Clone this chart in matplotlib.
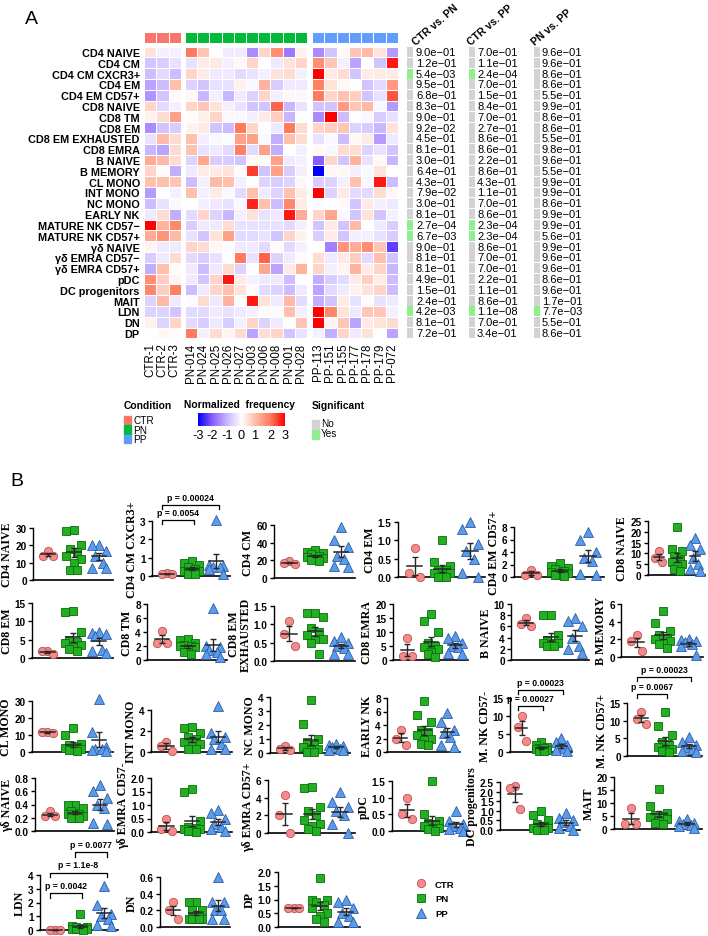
import numpy as np
import matplotlib
matplotlib.use("Agg")
import matplotlib.pyplot as plt
from matplotlib import font_manager
from matplotlib.colors import LinearSegmentedColormap
from matplotlib.patches import Rectangle
from matplotlib.lines import Line2D
import matplotlib.transforms as mtransforms

# ------------------------------------------------------------------ data A
row_labels = ["CD4 NAIVE", "CD4 CM", "CD4 CM CXCR3+", "CD4 EM", "CD4 EM CD57+", "CD8 NAIVE",
              "CD8 TM", "CD8 EM", "CD8 EM EXHAUSTED", "CD8 EMRA", "B NAIVE", "B MEMORY",
              "CL MONO", "INT MONO", "NC MONO", "EARLY NK", "MATURE NK CD57\u2212",
              "MATURE NK CD57+", "\u03b3\u03b4 NAIVE", "\u03b3\u03b4 EMRA CD57\u2212",
              "\u03b3\u03b4 EMRA CD57+", "pDC", "DC progenitors", "MAIT", "LDN", "DN", "DP"]
samples_ctr = ["CTR-1", "CTR-2", "CTR-3"]
samples_pn = ["PN-014", "PN-024", "PN-025", "PN-026", "PN-027", "PN-003", "PN-006", "PN-008", "PN-001", "PN-028"]
samples_pp = ["PP-113", "PP-151", "PP-155", "PP-177", "PP-178", "PP-179", "PP-072"]

heat_ctr = [
    [0.4, -0.2, -0.2], [-0.8, -0.7, -0.4], [-0.9, -0.5, -0.9], [-1.2, -0.9, 0.9],
    [-1.4, -0.8, 0.1], [0.6, -0.5, -0.2], [0.2, 0.5, 1.4], [-1.5, -0.8, -0.7],
    [-0.4, 1.0, 0.5], [-1.0, -1.2, 0.5], [1.2, 1.0, 0.5], [0.6, 0.05, -1.1],
    [0.9, 0.9, 0.8], [-1.3, 0.0, -0.2], [-0.9, -0.4, -0.1], [-0.3, 0.5, -1.1],
    [3.0, 1.1, 1.8], [1.2, 1.6, 1.0], [0.15, -0.3, -0.3], [-0.7, -0.3, 0.5],
    [-1.1, 0.9, 0.05], [1.7, 0.7, 0.15], [1.8, 0.7, 1.9], [-0.6, 1.0, -0.3],
    [-0.6, -0.6, -0.8], [0.2, -0.6, 0.6], [0.0, 0.1, 0.05]]
heat_pn = [
    [2.0, 0.8, 0.0, -0.3, -0.3, -1.5, 0.6, 1.7, -1.7, 0.2],
    [-0.4, 0.3, 0.3, -0.2, 0.1, 0.6, 0.0, -0.3, 0.4, 0.6],
    [0.6, 0.3, -0.3, -0.3, -0.5, -0.4, -0.2, 0.4, 0.5, -0.2],
    [-0.6, -0.8, -0.4, -0.4, 0.2, -0.1, 1.1, -0.7, -0.3, -0.3],
    [0.1, -1.0, -0.2, -1.0, -0.3, -0.6, 0.6, -0.2, 0.1, -0.1],
    [0.6, 0.8, 0.4, -0.2, -0.4, -0.8, -0.8, 2.2, -1.0, -0.4],
    [0.05, 0.2, 0.6, -0.1, -0.1, -0.2, 0.3, 0.7, -1.0, 0.0],
    [0.2, 0.3, -0.8, -0.9, 2.0, 0.6, 0.0, -0.3, 2.0, 0.5],
    [0.9, -0.2, -0.1, -0.05, 1.4, 1.4, -0.1, -1.1, 0.9, 0.5],
    [0.9, -0.4, -0.3, -0.5, 1.9, -0.5, 1.4, -1.1, 0.0, -0.2],
    [-0.6, 1.3, -0.7, -0.7, -0.8, 0.1, 0.1, 1.4, -0.3, -0.2],
    [-0.3, 0.3, 0.3, 0.4, 0.05, 2.5, -0.8, 1.4, -0.7, -0.2],
    [-0.9, -0.2, 1.0, 0.9, -0.2, 0.0, -0.6, -0.7, -0.6, 0.1],
    [0.9, -0.2, 0.3, -0.1, -0.5, 0.9, -0.3, -0.6, 0.9, 0.3],
    [0.0, -0.2, -0.3, -0.4, -0.1, 2.7, 0.9, -0.9, 1.8, 0.3],
    [-0.5, 0.6, -0.6, -1.0, -0.2, 0.4, -0.4, -0.3, 2.8, 1.2],
    [-0.7, -0.3, -0.3, 0.5, -0.4, -0.4, -0.4, -0.4, -0.5, -0.2],
    [-0.4, -0.8, 0.4, 1.4, -0.5, -0.5, -0.4, -0.8, 0.6, 0.2],
    [0.6, 0.5, 0.1, -0.05, -0.3, -0.3, -0.5, 0.05, -0.5, -0.2],
    [-0.5, -0.7, -0.4, 0.0, 2.0, -0.4, 2.2, -0.6, -0.3, 0.05],
    [-0.3, -0.9, -0.3, 0.5, -0.6, 0.0, 1.3, -1.2, 0.3, 1.1],
    [-0.3, -0.8, 0.6, 2.8, 0.3, -0.2, -0.3, -0.3, -0.9, 0.0],
    [-0.9, -0.3, 0.6, 0.9, 0.4, 0.05, -0.5, -0.6, -0.9, -0.3],
    [-0.05, 0.5, -0.3, 1.1, -0.05, 2.8, 0.4, -0.3, 1.0, -0.5],
    [-0.5, -0.5, -0.3, -0.4, -0.3, -0.2, 0.05, -0.05, 0.9, -0.2],
    [-0.5, -0.7, -0.3, -0.7, -0.2, 0.6, -0.6, -0.3, 0.0, 0.8],
    [2.0, -0.2, 0.5, 0.15, 0.5, -1.2, 0.5, 0.6, -0.8, -0.4]]
heat_pp = [
    [-1.5, -0.8, 0.1, 0.8, 1.0, 0.4, -1.3], [1.7, 0.8, -0.2, -1.2, 0.0, -0.8, 2.8],
    [3.0, 0.3, 0.5, -0.8, 0.3, 0.3, 0.3], [1.9, 0.4, 0.1, 0.0, -0.8, -0.5, 1.5],
    [2.0, 0.6, 0.9, 0.7, -0.8, -0.4, 2.3], [-0.8, -0.8, 1.5, 0.8, 1.0, -0.1, -1.3],
    [-1.5, 3.0, -0.9, 0.0, -0.1, -0.7, -0.4], [0.6, 0.7, 0.8, -0.6, -0.7, -1.0, 0.4],
    [-0.4, -0.1, -0.9, 0.1, 0.3, -1.3, -0.3], [0.1, -0.1, 0.5, 0.5, -0.6, -0.4, -0.8],
    [-2.0, 0.6, -0.8, 1.1, -0.4, 0.1, -1.0], [-3.0, 0.1, 0.1, -0.2, -0.1, 0.4, 0.0],
    [-0.7, -0.6, -0.2, 0.9, -0.1, 2.8, -0.9], [3.0, -0.6, 0.3, -0.5, -0.5, 0.5, 0.1],
    [-0.05, 0.0, 0.05, -0.8, 0.3, -0.2, -0.3], [0.6, 1.3, -0.1, -0.8, 0.4, -0.8, -0.2],
    [-0.8, 0.3, -0.8, 1.0, 0.0, -0.3, -0.7], [-0.7, 0.3, -0.8, -0.2, -0.2, -0.4, -0.7],
    [0.0, -1.6, 1.6, 1.2, 1.7, 0.8, -2.3], [0.5, -0.3, 0.3, 0.7, -0.5, 0.9, -0.8],
    [0.6, -0.2, 0.15, 1.1, 0.3, 0.6, -1.0], [-1.1, -0.7, -0.5, 0.3, 0.7, 0.3, -0.9],
    [-1.2, -0.5, -0.3, 0.2, 0.4, 0.6, -0.9], [-1.1, -0.8, 0.3, -0.4, 0.05, -0.4, -0.3],
    [3.0, 1.8, 0.4, -0.3, 0.8, 0.8, -0.2], [3.0, 0.15, 0.8, -1.2, 0.3, 0.4, 0.5],
    [-0.2, -1.1, 0.6, -0.3, 0.4, 0.0, -1.2]]

pval_headers = ["CTR vs. PN", "CTR vs. PP", "PN vs. PP"]
pvals_ctr_pn = [9.0e-01, 1.2e-01, 5.4e-03, 9.5e-01, 6.8e-01, 8.3e-01, 9.0e-01, 9.2e-02, 4.5e-01,
                8.1e-01, 3.0e-01, 6.4e-01, 4.3e-01, 7.9e-02, 3.0e-01, 8.1e-01, 2.7e-04, 6.7e-03,
                9.0e-01, 8.1e-01, 8.1e-01, 4.9e-01, 1.5e-01, 2.4e-01, 4.2e-03, 8.1e-01, 7.2e-01]
pvals_ctr_pp = [7.0e-01, 1.1e-01, 2.4e-04, 7.0e-01, 1.5e-01, 8.4e-01, 7.0e-01, 2.7e-01, 8.6e-01,
                8.6e-01, 2.2e-01, 8.6e-01, 4.3e-01, 1.1e-01, 7.0e-01, 8.6e-01, 2.3e-04, 2.3e-04,
                8.6e-01, 7.0e-01, 7.0e-01, 2.2e-01, 1.1e-01, 8.6e-01, 1.1e-08, 7.0e-01, 3.4e-01]
pvals_pn_pp = [9.6e-01, 9.6e-01, 8.6e-01, 8.6e-01, 5.5e-01, 9.9e-01, 8.6e-01, 8.6e-01, 5.5e-01,
               9.8e-01, 9.6e-01, 5.5e-01, 9.9e-01, 9.9e-01, 8.6e-01, 9.9e-01, 9.9e-01, 5.6e-01,
               9.9e-01, 9.6e-01, 9.6e-01, 8.6e-01, 9.6e-01, 1.7e-01, 7.7e-03, 5.5e-01, 8.6e-01]

# ------------------------------------------------------------------ data B
b_names = ["CD4 NAIVE", "CD4 CM CXCR3+", "CD4 CM", "CD4 EM", "CD4 EM CD57+", "CD8 NAIVE",
           "CD8 EM", "CD8 TM", "CD8 EM\nEXHAUSTED", "CD8 EMRA", "B NAIVE", "B MEMORY",
           "CL MONO", "INT MONO", "NC MONO", "EARLY NK", "M. NK CD57-", "M. NK CD57+",
           "\u03b3\u03b4 NAIVE", "\u03b3\u03b4 EMRA CD57-", "\u03b3\u03b4 EMRA CD57+", "pDC",
           "DC progenitors", "MAIT", "LDN", "DN", "DP"]
b_ctr = [[14, 16.5, 14], [0.1, 0.15, 0.1], [16, 19, 17], [0.8, 0.1, 0.0], [1.2, 0.3, 0.3],
         [11, 8, 6], [1.0, 2.0, 2.0], [4.2, 2.5, 2.5], [1.1, 0.75, 0.4], [8.0, 1.5, 1.5],
         [7.5, 6.5, 6.0], [2.5, 1.8, 0.7], [11, 11.5, 12], [1.0, 0.6, 0.1], [0.5, 0.3, 0.2],
         [3.3, 2.0, 1.0], [10, 7, 3], [12.5, 10.5, 9], [0.3, 0.22, 0.22], [0.5, 0.1, 0.05],
         [4.3, 2.0, 0.0], [1.0, 0.5, 0.35], [2.2, 2.3, 1.1], [8.0, 2.0, 2.0], [0.0, 0.0, 0.0],
         [0.3, 0.2, 0.1], [0.7, 0.7, 0.7]]
b_pn = [[28, 29, 20, 18, 16, 14, 12, 10, 6, 6],
        [0.8, 0.7, 0.6, 0.5, 0.4, 0.3, 0.3, 0.2, 0.1, 0.1],
        [32, 30, 28, 27, 25, 24, 23, 22, 20, 19],
        [1.0, 0.4, 0.3, 0.2, 0.2, 0.1, 0.1, 0.0, 0.0, 0.0],
        [2.2, 1.8, 1.5, 1.3, 1.0, 0.8, 0.6, 0.4, 0.3, 0.2],
        [22, 12, 11, 9, 7, 6, 5, 4, 3, 2],
        [12.5, 12.8, 7, 5, 4.5, 4, 3.5, 3, 2.5, 2.0],
        [3.0, 2.8, 2.5, 2.2, 2.0, 2.0, 1.8, 1.5, 1.2, 0.8],
        [1.3, 1.3, 1.2, 0.9, 0.8, 0.7, 0.6, 0.6, 0.5, 0.2],
        [16.5, 14, 10, 6, 5, 4.5, 4, 3, 2, 1],
        [8.0, 8.0, 4.5, 3.5, 3.0, 3.0, 3.0, 2.8, 2.5, 2.5],
        [5.2, 3.8, 3.0, 2.5, 2.2, 2.0, 1.8, 1.6, 1.5, 1.0],
        [14, 10, 5, 4, 3, 2.5, 2, 1.5, 1, 0.5],
        [2.4, 2.3, 1.8, 1.4, 1.2, 1.0, 0.8, 0.6, 0.3, 0.3],
        [3.8, 2.1, 1.0, 0.8, 0.6, 0.4, 0.3, 0.2, 0.1, 0.05],
        [7.5, 5.5, 4.5, 3.2, 3.0, 2.5, 2.0, 1.8, 1.2, 1.0],
        [2.8, 2.0, 1.5, 1.2, 1.0, 0.8, 0.6, 0.5, 0.3, 0.2],
        [12.5, 8.5, 6, 4, 3.0, 2.5, 2.0, 1.8, 1.5, 1.2],
        [0.4, 0.4, 0.35, 0.3, 0.25, 0.25, 0.22, 0.2, 0.2, 0.2],
        [1.6, 1.5, 0.4, 0.2, 0.15, 0.1, 0.1, 0.05, 0.05, 0.0],
        [5.1, 5.2, 3.0, 2.5, 2.0, 1.5, 1.0, 0.8, 0.5, 0.2],
        [1.5, 0.5, 0.3, 0.25, 0.2, 0.15, 0.1, 0.1, 0.05, 0.0],
        [1.0, 0.8, 0.5, 0.3, 0.2, 0.1, 0.1, 0.05, 0.0, 0.0],
        [15.5, 9, 6, 5.5, 5, 4.5, 4, 3.5, 2.5, 2.0],
        [1.2, 0.3, 0.25, 0.2, 0.15, 0.1, 0.1, 0.05, 0.05, 0.0],
        [0.3, 0.3, 0.2, 0.2, 0.15, 0.1, 0.1, 0.1, 0.1, 0.1],
        [1.8, 1.0, 1.0, 0.9, 0.8, 0.7, 0.5, 0.4, 0.3, 0.2]]
b_pp = [[20, 20, 17, 14, 10, 7, 7], [3.05, 0.6, 0.5, 0.5, 0.4, 0.55, 0.1],
        [58, 43, 35, 25, 22, 14, 13], [1.5, 1.3, 0.9, 0.7, 0.5, 0.1, 0.0],
        [7.2, 6.0, 4.0, 3.0, 2.5, 0.5, 0.3], [17, 14, 12, 8, 5, 3, 2],
        [7, 6.8, 6.5, 6, 2.2, 1.8, 1.5], [7.4, 2.0, 1.8, 1.5, 1.2, 0.8, 0.5],
        [0.65, 0.55, 0.5, 0.4, 0.35, 0.2, 0.2], [8.5, 8.0, 6, 5, 4.5, 2.5, 2],
        [7.5, 7.0, 6.0, 4.0, 2.5, 2.0, 1.2], [2.0, 1.9, 1.8, 1.7, 1.5, 1.2, 0.2],
        [31, 12, 3, 2, 1.5, 1, 0.5], [4.4, 1.8, 1.4, 1.2, 0.8, 0.3, 0.3],
        [0.65, 0.6, 0.5, 0.4, 0.3, 0.2, 0.2], [5.8, 4.5, 3.2, 2.8, 2.2, 1.0, 0.8],
        [4.0, 2.8, 2.0, 1.5, 1.0, 0.5, 0.2], [5.5, 4.0, 3.0, 2.5, 2.0, 1.5, 1.0],
        [0.7, 0.6, 0.5, 0.4, 0.35, 0.12, 0.1], [0.8, 0.7, 0.5, 0.3, 0.2, 0.1, 0.05],
        [4.6, 3.5, 3.0, 2.5, 2.0, 1.0, 0.0], [0.6, 0.3, 0.2, 0.15, 0.1, 0.05, 0.0],
        [0.9, 0.6, 0.5, 0.4, 0.2, 0.1, 0.0], [4.0, 3.0, 2.5, 2.0, 1.5, 1.0, 0.5],
        [3.2, 1.8, 1.2, 1.0, 0.8, 0.4, 0.3], [0.6, 0.3, 0.3, 0.2, 0.2, 0.1, 0.1],
        [1.0, 0.9, 0.7, 0.5, 0.4, 0.2, 0.2]]
b_ymax = [30, 3, 60, 1.5, 8, 25, 15, 8, 1.5, 20, 10, 6, 30, 4, 4, 8, 15, 15,
          0.8, 2.0, 6, 1.5, 2.5, 20, 4, 0.6, 2.0]
b_ystep = [10, 1, 20, 0.5, 2, 5, 5, 2, 0.5, 5, 2, 2, 10, 2, 1, 2, 5, 5,
           0.2, 0.5, 2, 0.5, 0.5, 5, 1, 0.2, 0.5]
# significance brackets: panel index -> (group a, group b, label)
b_brackets = {1: [(0, 1, "p = 0.0054"), (0, 2, "p = 0.00024")],
              16: [(0, 1, "p = 0.00027"), (0, 2, "p = 0.00023")],
              17: [(0, 1, "p = 0.0067"), (0, 2, "p = 0.00023")],
              24: [(0, 1, "p = 0.0042"), (0, 2, "p = 1.1e-8"), (1, 2, "p = 0.0077")]}
groups = ["CTR", "PN", "PP"]

# ------------------------------------------------------------------ layout / style
W, H = 708, 937
fig = plt.figure(figsize=(W / 100, H / 100), dpi=100)
names = {f.name for f in font_manager.fontManager.ttflist}
SANS = "Liberation Sans"
NARROW = "Liberation Sans Narrow" if "Liberation Sans Narrow" in names else "Liberation Sans"
SERIF = "Liberation Serif"


def rect(x0, y0, x1, y1):
    return [x0 / W, 1 - y1 / H, (x1 - x0) / W, (y1 - y0) / H]


cmap = LinearSegmentedColormap.from_list(
    "nf", [(0, "#0000FF"), (1 / 6, "#8A5FFF"), (2 / 6, "#C8B6FF"), (0.5, "#FFFFFF"),
           (4 / 6, "#FFB9A6"), (5 / 6, "#FF7C5E"), (1, "#FF0000")])
group_colors = {"CTR": "#F8766D", "PN": "#00BA38", "PP": "#619CFF"}

HM_TOP, HM_BOT = 47.6, 339.4
hm_blocks = [(144, 181, heat_ctr, samples_ctr, "CTR"),
             (185, 307, heat_pn, samples_pn, "PN"),
             (312, 398, heat_pp, samples_pp, "PP")]
for bi, (x0, x1, vals, samp, grp) in enumerate(hm_blocks):
    ax = fig.add_axes(rect(x0, HM_TOP, x1, HM_BOT))
    arr = np.array(vals)
    ax.pcolormesh(arr, cmap=cmap, vmin=-3, vmax=3, edgecolors="white", linewidth=0.6)
    ax.set_xlim(0, arr.shape[1])
    ax.set_ylim(arr.shape[0], 0)
    ax.set_frame_on(False)
    ax.set_xticks(np.arange(arr.shape[1]) + 0.5)
    ax.set_xticklabels(samp, rotation=90, fontsize=8.3, family=SANS)
    ax.tick_params(axis="both", length=0, pad=3)
    if bi == 0:
        ax.set_yticks(np.arange(arr.shape[0]) + 0.5)
        ax.set_yticklabels(row_labels, fontsize=7.8, fontweight="bold", family=SANS)
    else:
        ax.set_yticks([])
    # condition annotation bar
    axa = fig.add_axes(rect(x0, 33.3, x1, 44.0))
    axa.pcolormesh(np.zeros((1, arr.shape[1])), cmap=LinearSegmentedColormap.from_list(
        "g", [group_colors[grp], group_colors[grp]]), edgecolors="white", linewidth=0.6)
    axa.set_xlim(0, arr.shape[1])
    axa.set_axis_off()

# p-value columns
axp = fig.add_axes(rect(400, HM_TOP, 610, HM_BOT))
axp.set_xlim(400, 610)
axp.set_ylim(27, 0)
axp.set_axis_off()
yy = np.arange(27) + 0.5
for (bar_x, txt_x, hdr_x), pv, hdr in zip([(407, 416, 417), (469, 477, 472), (534, 542, 536)],
                                         [pvals_ctr_pn, pvals_ctr_pp, pvals_pn_pp], pval_headers):
    cols = ["#90EE90" if p < 0.05 else "#D3D3D3" for p in pv]
    axp.barh(yy, 6, left=bar_x, height=0.92, color=cols)
    for y, p in zip(yy, pv):
        axp.text(txt_x, y, ("%.1e" % p).replace("-", "\u2212"), fontsize=8, family=SANS,
                 va="center", ha="left")
    axp.text(hdr_x, -0.05, hdr, rotation=41, rotation_mode="anchor", ha="left", va="bottom",
             fontsize=7.6, fontweight="bold", family=SANS, clip_on=False)

# overlay axis in pixel coordinates for legends / labels
ov = fig.add_axes([0, 0, 1, 1])
ov.set_xlim(0, W)
ov.set_ylim(H, 0)
ov.set_axis_off()
ov.text(25, 19, "A", fontsize=14, family=SANS, va="center", ha="left")
ov.text(10, 482, "B", fontsize=14, family=SANS, va="center", ha="left")

# Condition legend
ov.text(124, 406.5, "Condition", fontsize=7.4, fontweight="bold", family=NARROW, va="center")
for i, g in enumerate(groups):
    ov.add_patch(Rectangle((124, 416.7 + i * 9.6), 6.5, 8.3, color=group_colors[g]))
    ov.text(133, 421 + i * 9.6, g, fontsize=7.2, family=NARROW, va="center")
# colour bar legend
ov.text(240, 405.5, "Normalized  frequency", fontsize=7.4, fontweight="bold", family=NARROW,
        va="center", ha="center")
axc = fig.add_axes(rect(198, 414, 285, 427.3))
axc.imshow(np.linspace(-3, 3, 256)[None, :], cmap=cmap, aspect="auto", extent=(-3, 3, 0, 1))
axc.set_yticks([])
axc.set_xticks(np.arange(-3, 4))
axc.set_xticklabels([str(v) for v in range(-3, 4)], fontsize=9.2, family=NARROW)
axc.tick_params(axis="x", length=0, pad=2)
for s in axc.spines.values():
    s.set_visible(False)
# Significant legend
ov.text(312, 406.5, "Significant", fontsize=7.4, fontweight="bold", family=NARROW, va="center")
for i, (lab, c) in enumerate([("No", "#D3D3D3"), ("Yes", "#90EE90")]):
    ov.add_patch(Rectangle((312, 420.7 + i * 10), 6.5, 8.8, color=c))
    ov.text(321, 424 + i * 10, lab, fontsize=7.2, family=NARROW, va="center")

# ------------------------------------------------------------------ panel B
b_layout = [(33, 113, 581, 529), (152, 230, 577, 522), (274, 355, 579, 526),
            (398, 485, 578, 523), (514, 604, 578, 528), (648, 705, 576, 522),
            (32, 113, 659, 604), (147, 227, 661, 605), (274, 355, 662, 607),
            (393, 468, 661, 605), (511, 589, 661, 605), (621, 703, 658, 605),
            (32, 113, 753, 702), (151, 232, 753, 711), (270, 350, 754, 698),
            (387, 460, 753, 699), (510, 572, 753, 699), (627, 702, 757, 704),
            (35, 114, 832, 779), (151, 232, 833, 779), (268, 355, 834, 781),
            (392, 470, 832, 782), (500, 580, 831, 783), (614, 702, 830, 778),
            (40, 118, 931, 876), (160, 230, 928, 878), (278, 360, 928, 873)]
b_bracket_levels = {1: [1.02, 1.29], 16: [0.85, 1.15], 17: [1.17, 1.49], 24: [0.67, 1.04, 1.41]}
mstyle = {"CTR": dict(marker="o", ms=6.0, mfc="#F28B8B", mec="#C0504D"),
          "PN": dict(marker="s", ms=5.6, mfc="#22B022", mec="#0B6B0B"),
          "PP": dict(marker="^", ms=6.6, mfc="#5B9BEA", mec="#2B5FA8")}
spread = {"CTR": 0.2, "PN": 0.3, "PP": 0.28}


def offsets(n, w):
    pattern = np.array([0.0, -1.0, 1.0, -0.5, 0.5, -1.0, 1.0, 0.0, -0.5, 0.5])
    return np.resize(pattern, n) * w


for k, name in enumerate(b_names):
    x0, x1, y0, y1 = b_layout[k]
    ax = fig.add_axes(rect(x0, y1, x1, y0))
    for gi, (g, vals) in enumerate(zip(groups, [b_ctr[k], b_pn[k], b_pp[k]])):
        v = np.sort(np.array(vals, dtype=float))[::-1]
        xs = gi + offsets(len(v), spread[g])
        ax.plot(xs, v, ls="none", mew=0.6, clip_on=False, zorder=3, **mstyle[g])
        m = v.mean()
        se = v.std(ddof=1) / np.sqrt(len(v))
        ax.plot([gi - 0.28, gi + 0.28], [m, m], color="#262626", lw=1.1, zorder=4, clip_on=False)
        ax.errorbar([gi], [m], yerr=[[min(se, m)], [se]], color="#262626", lw=1.0, capsize=2.5,
                    capthick=1.0, zorder=4, clip_on=False)
    ax.set_xlim(-0.6, 2.55)
    ax.set_ylim(0, b_ymax[k])
    ticks = np.arange(0, b_ymax[k] + 1e-9, b_ystep[k])
    ax.set_yticks(ticks)
    if b_ystep[k] < 1:
        ax.set_yticklabels(["%.1f" % t for t in ticks])
    else:
        ax.set_yticklabels(["%d" % t for t in ticks])
    ax.set_xticks([])
    for s in ["top", "right"]:
        ax.spines[s].set_visible(False)
    ax.spines["left"].set_linewidth(1.0)
    ax.spines["bottom"].set_linewidth(1.2)
    ax.tick_params(axis="y", length=3, width=1.0, pad=1.5, labelsize=7.2)
    for lab in ax.get_yticklabels():
        lab.set_fontweight("bold")
        lab.set_family(NARROW)
    ax.set_ylabel(name, family=SERIF, fontweight="bold", fontsize=8.6, labelpad=1.5,
                  linespacing=0.95)
    ax.patch.set_alpha(0)
    if k in b_brackets:
        tr = mtransforms.blended_transform_factory(ax.transData, ax.transAxes)
        for (ga, gb, lab), lev in zip(b_brackets[k], b_bracket_levels[k]):
            ax.plot([ga - 0.2, ga - 0.2, gb + 0.1, gb + 0.1], [lev - 0.08, lev, lev, lev - 0.08],
                    color="black", lw=0.9, transform=tr, clip_on=False)
            ax.text((ga + gb) / 2 - 0.05, lev + 0.06, lab, transform=tr, ha="center", va="bottom",
                    fontsize=6.2, fontweight="bold", family=SANS, clip_on=False)

# legend for panel B
handles = [Line2D([], [], ls="none", mew=0.6, label=g, **mstyle[g]) for g in groups]
leg = ov.legend(handles=handles, loc="upper left", bbox_to_anchor=(403 / W, 1 - 872 / H),
                bbox_transform=fig.transFigure, frameon=False, handletextpad=0.5,
                labelspacing=0.6, prop={"family": SANS, "weight": "bold", "size": 6.8})

fig.savefig("out.png", dpi=100)
